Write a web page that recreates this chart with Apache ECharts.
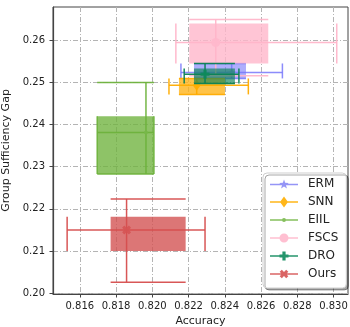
<!DOCTYPE html>
<html><head><meta charset="utf-8">
<script src="https://cdn.jsdelivr.net/npm/echarts@6/dist/echarts.min.js"></script>
<style>html,body{margin:0;padding:0;background:#fff}#c{width:350px;height:327px}</style>
</head><body><div id="c"></div>
<script>
// each: [cx, cy, xErrLow, xErrHigh, yErrLow, yErrHigh, boxX0, boxX1, boxY0, boxY1]
const methods = ['ERM', 'SNN', 'EIIL', 'FSCS', 'DRO', 'Ours'];
const ERM  = [0.82438, 0.25237, 0.82158, 0.82718, 0.25095, 0.25450, 0.82230, 0.82517, 0.25095, 0.25450];
const SNN  = [0.82245, 0.24936, 0.82092, 0.82530, 0.24716, 0.25095, 0.82147, 0.82401, 0.24716, 0.25095];
const EIIL = [0.81965, 0.23815, 0.81696, 0.82009, 0.22830, 0.25000, 0.81696, 0.82009, 0.22830, 0.24200];
const FSCS = [0.82350, 0.25948, 0.82130, 0.83018, 0.25157, 0.26493, 0.82204, 0.82640, 0.25450, 0.26398];
const DRO  = [0.82291, 0.25197, 0.82176, 0.82478, 0.24976, 0.25450, 0.82230, 0.82456, 0.24976, 0.25332];
const OURS = [0.81858, 0.21500, 0.81530, 0.82291, 0.20260, 0.22235, 0.81770, 0.82184, 0.21000, 0.21815];
const xTicks = [0.816, 0.818, 0.820, 0.822, 0.824, 0.826, 0.828, 0.830];
const yTicks = [0.20, 0.21, 0.22, 0.23, 0.24, 0.25, 0.26];

const dataSets = [ERM, SNN, EIIL, FSCS, DRO, OURS];
const lineColors = ['rgba(120,120,250,0.85)', 'rgba(255,172,0,0.95)', 'rgba(110,178,60,0.95)', 'rgba(255,182,202,0.95)', 'rgba(10,130,85,0.95)', 'rgba(214,78,78,0.95)'];
const fillColors = ['rgba(120,120,250,0.6)', 'rgba(255,178,20,0.78)', 'rgba(110,178,60,0.78)', 'rgba(255,182,202,0.8)', 'rgba(10,130,85,0.65)', 'rgba(210,80,80,0.78)'];
const legendColors = ['#8a8af5', '#ffae00', '#78b84a', '#ffb8cc', '#0d8a5c', '#d65454'];

const LINE = 'M0,6.25 L28,6.25 L28,7.75 L0,7.75 Z ';
const MK = {
  ERM: 'M14,2 L15.18,5.38 L18.76,5.45 L15.90,7.62 L16.94,11.05 L14,9 L11.06,11.05 L12.10,7.62 L9.24,5.45 L12.82,5.38 Z',
  SNN: 'M14,1.5 L18,7 L14,12.5 L10,7 Z',
  EIIL: 'M12,7 A2,2 0 1,1 16,7 A2,2 0 1,1 12,7 Z',
  FSCS: 'M9.5,7 A4.5,4.5 0 1,1 18.5,7 A4.5,4.5 0 1,1 9.5,7 Z',
  DRO: 'M12.4,2.5 L15.6,2.5 L15.6,5.4 L18.5,5.4 L18.5,8.6 L15.6,8.6 L15.6,11.5 L12.4,11.5 L12.4,8.6 L9.5,8.6 L9.5,5.4 L12.4,5.4 Z',
  Ours: 'M16.19,2.69 L18.31,4.81 L16.12,7 L18.31,9.19 L16.19,11.31 L14,9.12 L11.81,11.31 L9.69,9.19 L11.88,7 L9.69,4.81 L11.81,2.69 L14,4.88 Z'
};
const mkSize = {ERM: 9, SNN: 11, EIIL: 4, FSCS: 9, DRO: 9, Ours: 9};

function makeRender(lc, fc) {
  return function (params, api) {
    const v = i => api.value(i);
    const cx = v(0), cy = v(1), xl = v(2), xh = v(3), yl = v(4), yh = v(5);
    const bx0 = v(6), bx1 = v(7), by0 = v(8), by1 = v(9);
    const A = api.coord([bx0, by1]), B = api.coord([bx1, by0]);
    const ln = (p, q) => ({type: 'line', shape: {x1: p[0], y1: p[1], x2: q[0], y2: q[1]}, style: {stroke: lc, lineWidth: 1.5}});
    return {type: 'group', children: [
      {type: 'rect', shape: {x: A[0], y: A[1], width: B[0] - A[0], height: B[1] - A[1]}, style: {fill: fc}},
      ln(api.coord([xl, cy]), api.coord([xh, cy])),
      ln(api.coord([xl, by0]), api.coord([xl, by1])),
      ln(api.coord([xh, by0]), api.coord([xh, by1])),
      ln(api.coord([cx, yl]), api.coord([cx, yh])),
      ln(api.coord([bx0, yl]), api.coord([bx1, yl])),
      ln(api.coord([bx0, yh]), api.coord([bx1, yh]))
    ]};
  };
}

const series = [];
methods.forEach((m, i) => {
  const d = dataSets[i];
  series.push({
    type: 'custom', name: m + '_box', z: 2 + i * 2, silent: true,
    renderItem: makeRender(lineColors[i], fillColors[i]),
    encode: {x: [0, 2, 3, 6, 7], y: [1, 4, 5, 8, 9]},
    data: [d]
  });
  series.push({
    type: 'line', name: m, z: 3 + i * 2, silent: true, animation: false,
    data: [[d[0], d[1]]],
    symbol: 'path://' + MK[m], symbolSize: mkSize[m] * 1.0, symbolKeepAspect: true,
    itemStyle: {color: legendColors[i], opacity: 0.9},
    lineStyle: {color: legendColors[i]}
  });
});

const axisFont = {fontFamily: 'DejaVu Sans', fontSize: 10, color: '#222'};
const chart = echarts.init(document.getElementById('c'), null, {renderer: 'canvas'});
chart.setOption({
  animation: false,
  grid: {left: 53, top: 7, width: 295, height: 287, show: true, borderColor: '#444', borderWidth: 1, backgroundColor: 'transparent', containLabel: false, outerBoundsMode: 'none'},
  xAxis: {
    type: 'value', min: 0.81452, max: 0.8308,
    name: 'Accuracy', nameLocation: 'middle', nameGap: 22,
    nameTextStyle: {fontFamily: 'DejaVu Sans', fontSize: 11, color: '#222'},
    axisLine: {show: true, lineStyle: {color: '#444', width: 1.2}},
    axisTick: {show: true, length: 3.5, lineStyle: {color: '#444'}, customValues: xTicks},
    axisLabel: Object.assign({margin: 7, customValues: xTicks, formatter: v => v.toFixed(3)}, axisFont),
    splitLine: {show: true, lineStyle: {color: '#b4b4b4', width: 1, type: [5, 2, 1, 2]}}
  },
  yAxis: {
    type: 'value', min: 0.1998, max: 0.2679,
    name: 'Group Sufficiency Gap', nameLocation: 'middle', nameGap: 34,
    nameTextStyle: {fontFamily: 'DejaVu Sans', fontSize: 11, color: '#222'},
    axisLine: {show: true, lineStyle: {color: '#444', width: 1.2}},
    axisTick: {show: true, length: 3.5, lineStyle: {color: '#444'}, customValues: yTicks},
    axisLabel: Object.assign({margin: 8, customValues: yTicks, formatter: v => v.toFixed(2)}, axisFont),
    splitLine: {show: true, lineStyle: {color: '#b4b4b4', width: 1, type: [5, 2, 1, 2]}}
  },
  legend: {
    orient: 'vertical', left: 263, top: 173,
    backgroundColor: '#fff', borderColor: '#cfcfcf', borderWidth: 1, borderRadius: 4,
    shadowColor: 'rgba(0,0,0,0.35)', shadowOffsetX: 2, shadowOffsetY: 2, shadowBlur: 0,
    padding: [5, 8, 8, 7], itemGap: 6, itemWidth: 28, itemHeight: 14,
    itemStyle: {borderWidth: 0},
    textStyle: {fontFamily: 'DejaVu Sans', fontSize: 12, color: '#222', padding: [0, 0, 0, 5]},
    data: methods.map(m => ({name: m, icon: 'path://' + LINE + MK[m]}))
  },
  series: series
});
</script></body></html>
